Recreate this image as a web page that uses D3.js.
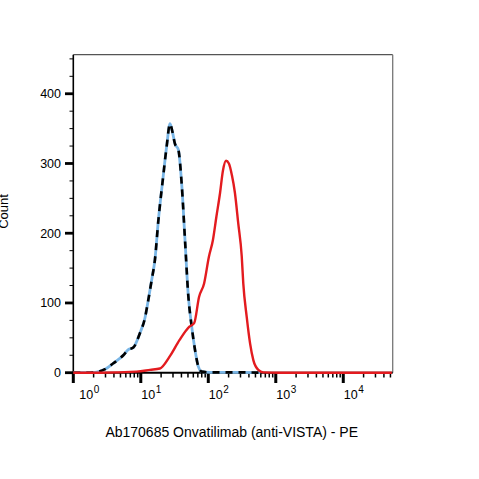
<!DOCTYPE html>
<html><head><meta charset="utf-8">
<script src="https://cdn.jsdelivr.net/npm/d3@7/dist/d3.min.js"></script>
<style>body{margin:0;background:#fff}svg{display:block}</style>
</head><body><svg id="c" width="479" height="479"></svg>
<script>
// Control (unstained / isotype) histogram: fluorescence intensity vs count
const ctrlX = [1, 1.77, 2.22, 2.95, 3.92, 5.51, 6.53, 7.74, 9.73, 11.5, 12.9, 14.5, 16.2, 18.2, 21.5, 24.2, 27.1, 29.5, 32.1, 36.0, 40.4, 45.2, 50.6, 56.8, 63.5, 71.1, 79.8, 105, 295, 589];
const ctrlY = [0, 0, 1, 5, 13.5, 25, 33, 36, 57, 78, 104, 133, 162, 218, 282, 325, 357, 345, 328, 320, 270, 190, 110, 66, 33, 9, 1.5, 0.5, 0.5, 0];
// Ab170685 stained histogram
const stainX = [1, 2.49, 8.69, 13.7, 19.2, 26.7, 37.6, 52.5, 61.7, 73.1, 86.7, 102, 117, 132, 149, 165, 183, 202, 224, 248, 278, 313, 330, 371, 416, 465, 551, 653, 1150, 52500];
const stainY = [0, 0, 1.5, 4, 6, 23, 47, 66, 71, 109, 128, 166, 190, 224, 257, 290, 304, 300, 283, 258, 214, 167, 128, 80, 42, 18, 4, 0.5, 0, 0];
const yMajor = [0, 100, 200, 300, 400];
const xMajorExp = [0, 1, 2, 3, 4];
const xTitle = "Ab170685 Onvatilimab (anti-VISTA) - PE";
const yTitle = "Count";

const FONT = "Liberation Sans, Arial, sans-serif";
const svg = d3.select("#c");
const x = d3.scaleLog().domain([1, 54000]).range([73.3, 392.7]);
const y = d3.scaleLinear().domain([0, 456]).range([372.7, 54.7]);

// frame
svg.append("line").attr("x1", x.range()[0]).attr("x2", x.range()[1]).attr("y1", y.range()[1]).attr("y2", y.range()[1]).attr("stroke", "#555").attr("stroke-width", 1.3);
svg.append("line").attr("x1", x.range()[1]).attr("x2", x.range()[1]).attr("y1", y.range()[1]).attr("y2", y.range()[0]).attr("stroke", "#777").attr("stroke-width", 1.3);

// y axis
const gy = svg.append("g");
gy.selectAll("line.minor").data(d3.range(0, 451, 25).filter(v => v % 100 !== 0)).join("line")
  .attr("x1", 69.5).attr("x2", 73.3).attr("y1", d => y(d)).attr("y2", d => y(d)).attr("stroke", "#000").attr("stroke-width", 1);
gy.selectAll("line.major").data(yMajor).join("line")
  .attr("x1", 65).attr("x2", 73.3).attr("y1", d => y(d)).attr("y2", d => y(d)).attr("stroke", "#000").attr("stroke-width", 2.8);
gy.selectAll("text").data(yMajor).join("text")
  .attr("x", 61).attr("y", d => y(d)).attr("dy", "0.35em").attr("text-anchor", "end")
  .attr("font-family", FONT).attr("font-size", 12.5).attr("fill", "#000").text(d => d);
svg.append("line").attr("x1", 73.3).attr("x2", 73.3).attr("y1", y.range()[1]).attr("y2", y.range()[0] + 1).attr("stroke", "#000").attr("stroke-width", 1.6);

// x axis
const gx = svg.append("g");
const allTicks = x.ticks().filter(v => v <= x.domain()[1]);
const minorTicks = allTicks.filter(v => Math.abs(Math.log10(v) - Math.round(Math.log10(v))) > 1e-6);
gx.selectAll("line.minor").data(minorTicks).join("line")
  .attr("x1", d => x(d)).attr("x2", d => x(d)).attr("y1", 372.7).attr("y2", 377.5).attr("stroke", "#000").attr("stroke-width", 1.5);
gx.selectAll("line.major").data(xMajorExp).join("line")
  .attr("x1", d => x(Math.pow(10, d))).attr("x2", d => x(Math.pow(10, d))).attr("y1", 372.7).attr("y2", 383).attr("stroke", "#000").attr("stroke-width", 3);
svg.append("line").attr("x1", 72.5).attr("x2", 392.7).attr("y1", 372.7).attr("y2", 372.7).attr("stroke", "#000").attr("stroke-width", 2);
const lab = gx.selectAll("text").data(xMajorExp).join("text")
  .attr("x", d => x(Math.pow(10, d)) + (d === 0 ? 6 : 0.5)).attr("y", 399.3)
  .attr("font-family", FONT).attr("font-size", 12.5).attr("fill", "#000");
lab.append("tspan").text("10");
lab.append("tspan").attr("dy", -6.5).attr("dx", 0.5).attr("font-size", 10).text(d => d);

// curves
const line = d3.line().x(d => x(d[0])).y(d => y(d[1])).curve(d3.curveMonotoneX);
const ctrl = ctrlX.map((v, i) => [v, ctrlY[i]]);
const stain = stainX.map((v, i) => [v, stainY[i]]);
svg.append("path").attr("d", line(ctrl)).attr("fill", "none").attr("stroke", "#7ab6e6").attr("stroke-width", 2.8).attr("stroke-linejoin", "round");
svg.append("path").attr("d", line(ctrl)).attr("fill", "none").attr("stroke", "#000").attr("stroke-width", 2.6).attr("stroke-dasharray", "7,6").attr("stroke-linejoin", "round");
svg.append("path").attr("d", line(stain)).attr("fill", "none").attr("stroke", "#e31b1f").attr("stroke-width", 2.4).attr("stroke-linejoin", "round");

// titles
svg.append("text").attr("x", 231.7).attr("y", 436.5).attr("text-anchor", "middle")
  .attr("font-family", FONT).attr("font-size", 14).attr("fill", "#000").text(xTitle);
svg.append("text").attr("transform", "translate(7.5,211.5) rotate(-90)").attr("text-anchor", "middle")
  .attr("font-family", FONT).attr("font-size", 13).attr("fill", "#000").text(yTitle);
</script></body></html>
